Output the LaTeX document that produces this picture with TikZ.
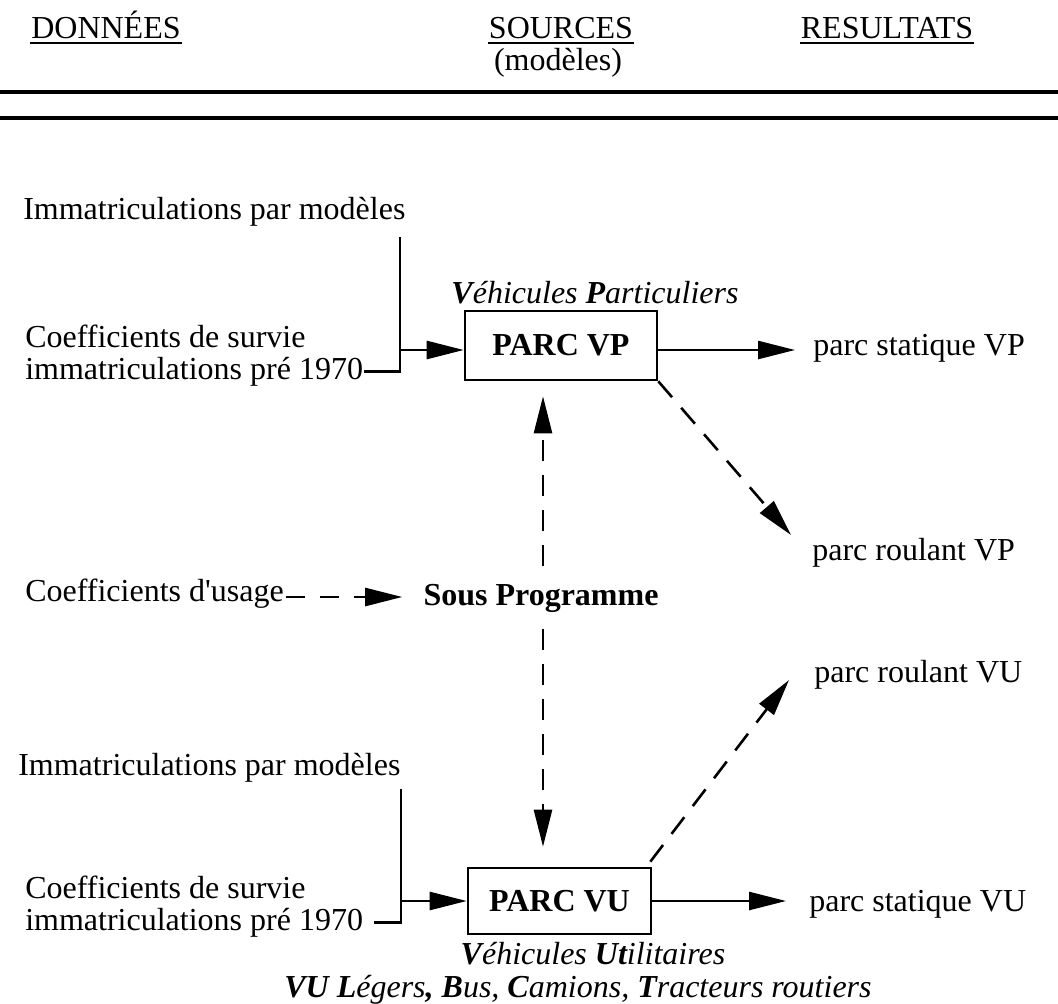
\documentclass[tikz,border=0pt]{standalone}
\usepackage{fontspec}
\setmainfont{Liberation Serif}
\usetikzlibrary{arrows.meta}
\begin{document}
\begin{tikzpicture}[x=1pt,y=-1pt,line width=2.6pt,
  txt/.style={inner sep=0pt,font=\fontsize{32}{32}\selectfont},
  btxt/.style={inner sep=0pt,font=\fontsize{32}{32}\selectfont\bfseries},
  itxt/.style={inner sep=0pt,font=\fontsize{32}{32}\selectfont\itshape},
  box/.style={draw,line width=2.6pt,inner sep=0pt,font=\fontsize{32}{32}\selectfont\bfseries},
  arr/.style={-{Triangle[length=37pt,width=18pt]}},
  dsh/.style={dash pattern=on 21pt off 14pt},
  uline/.style={line width=1.8pt}]
\useasboundingbox (0,0) rectangle (1058,1004);
% header
\node[txt,anchor=base west] (hD) at (30,38) {DONNÉES};
\node[txt,anchor=base] (hS) at (561,38) {SOURCES};
\node[txt,anchor=base] (hM) at (558,70) {(modèles)};
\node[txt,anchor=base] (hR) at (887,38) {RESULTATS};
\draw[uline] ([yshift=-5pt]hD.base west) -- ([yshift=-5pt]hD.base east);
\draw[uline] ([yshift=-5pt]hS.base west) -- ([yshift=-5pt]hS.base east);
\draw[uline] ([yshift=-5pt]hR.base west) -- ([yshift=-5pt]hR.base east);
\coordinate (L1a) at (0,92); \coordinate (L1b) at (1058,92);
\coordinate (L2a) at (0,118); \coordinate (L2b) at (1058,118);
\draw[line width=3.8pt] (L1a) -- (L1b);
\draw[line width=3.8pt] (L2a) -- (L2b);
% upper group
\node[txt,anchor=base west] (imm1) at (22,219) {Immatriculations par modèles};
\node[txt,anchor=base west] (cs1a) at (24,347) {Coefficients de survie};
\node[txt,anchor=base west] (cs1b) at (24,379) {immatriculations pré 1970};
\node[box,minimum width=192pt,minimum height=69pt] (vp) at (561,345.5) {PARC VP};
\node[itxt,anchor=base] (vpl) at (595,303) {\textbf{V}éhicules \textbf{P}articuliers};
\coordinate (t1a) at (400,237);
\coordinate (t1c) at (400,350);
\draw (cs1b.east) -- (cs1b.east -| t1a) -- (t1a);
\draw[arr] (t1c) -- (vp.west |- t1c);
\node[txt,anchor=base west] (psvp) at (812,355) {parc statique VP};
\draw[arr,shorten >=17pt] (vp.east |- t1c) -- (psvp.west |- t1c);
\node[txt,anchor=base west] (prvp) at (811,560) {parc roulant VP};
\coordinate (prvptip) at (791,535);
\draw[arr,dsh] (vp.south east) -- (prvptip);
% middle
\node[btxt,anchor=base] (sp) at (541,605) {Sous Programme};
\node[txt,anchor=base west] (cu) at (24,601) {Coefficients d\textquotesingle usage};
\coordinate (cuend) at (286,597);
\draw[arr,dash pattern=on 19pt off 15pt,shorten >=20pt] (cuend) -- (cuend -| sp.west);
\coordinate (vx) at (543,0);
\draw[arr,dsh,shorten <=17pt,shorten >=15pt] (sp.north -| vx) -- (vp.south -| vx);
% lower group
\node[box,minimum width=183pt,minimum height=66pt] (vu) at (559.5,901) {PARC VU};
\draw[arr,dsh,shorten <=16pt,shorten >=20pt] (sp.south -| vx) -- (vu.north -| vx);
\node[txt,anchor=base west] (imm2) at (17,775) {Immatriculations par modèles};
\node[txt,anchor=base west] (cs2a) at (24,898) {Coefficients de survie};
\node[txt,anchor=base west] (cs2b) at (24,930) {immatriculations pré 1970};
\coordinate (t2a) at (401,789);
\coordinate (t2c) at (401,901);
\draw ([xshift=10pt]cs2b.east) -- (cs2b.east -| t2a) -- (t2a);
\draw[arr] (t2c) -- (vu.west |- t2c);
\node[txt,anchor=base west] (psvu) at (808,911) {parc statique VU};
\draw[arr,shorten >=22pt] (vu.east |- t2c) -- (psvu.west |- t2c);
\node[txt,anchor=base west] (prvu) at (813,682) {parc roulant VU};
\coordinate (prvutip) at (789,680);
\draw[arr,dsh] ([xshift=-2pt,yshift=5pt]vu.north east) -- (prvutip);
\node[itxt,anchor=base] (vul1) at (593,964) {\textbf{V}éhicules \textbf{Ut}ilitaires};
\node[itxt,anchor=base] (vul2) at (578,997) {\textbf{VU L}égers\textbf{,} \textbf{B}us, \textbf{C}amions, \textbf{T}racteurs routiers};
\end{tikzpicture}
\end{document}
